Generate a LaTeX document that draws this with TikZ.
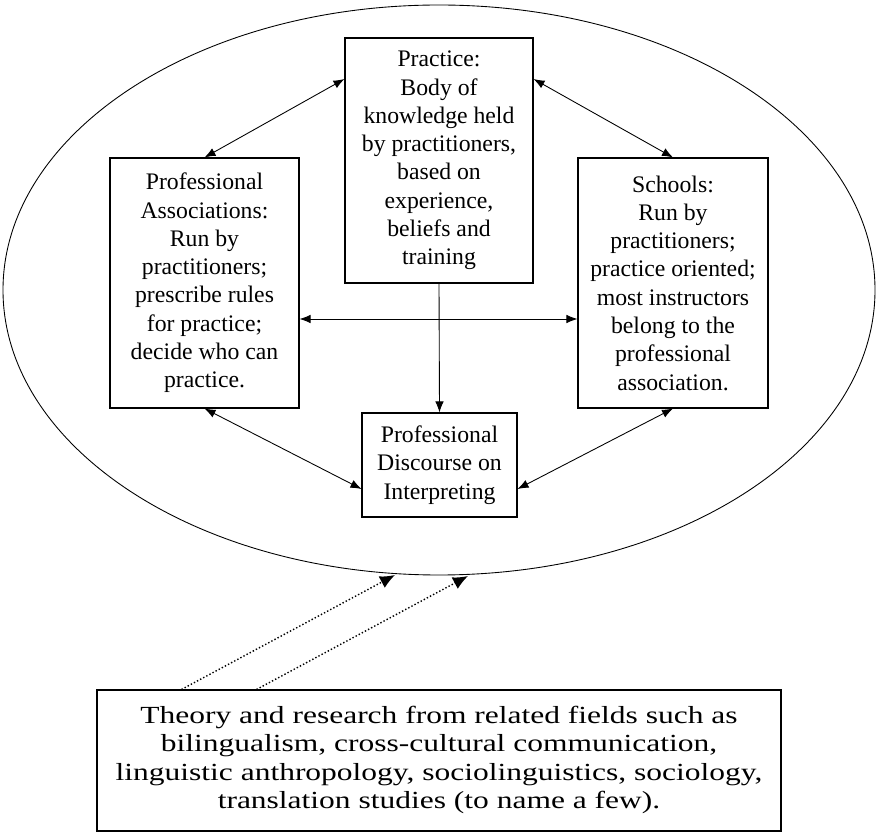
\documentclass[tikz,border=0pt]{standalone}
\usepackage{fontspec}
\setmainfont{Liberation Serif}
\usepackage{graphicx}
\usepackage{tikz}
\usetikzlibrary{arrows.meta,calc}

\begin{document}
\begin{tikzpicture}[>={Latex[length=2.2mm,width=1.7mm]},
  box/.style={draw,line width=0.6pt,align=center,inner sep=2pt,
    font=\fontsize{13.5}{16.1}\selectfont},
  link/.style={<->,line width=0.5pt},
  feed/.style={->,dash pattern=on 0.8pt off 1.2pt,line width=0.8pt,>={Latex[length=3mm,width=2.6mm]}}]
  \useasboundingbox (0,0) rectangle (17.56,-16.64);
  \draw[line width=0.5pt] (8.78,-5.8) ellipse (8.72 and 5.7);
  \node[box,minimum width=3.76cm,minimum height=4.9cm] (practice) at (8.78,-3.21)
    {Practice:\\ Body of\\ knowledge held\\ by practitioners,\\ based on\\ experience,\\ beliefs and\\ training};
  \node[box,minimum width=3.78cm,minimum height=5.0cm] (assoc) at (4.09,-5.66)
    {Professional\\ Associations:\\ Run by\\ practitioners;\\ prescribe rules\\ for practice;\\ decide who can\\ practice.};
  \node[box,minimum width=3.8cm,minimum height=5.0cm] (schools) at (13.46,-5.66)
    {Schools:\\ Run by\\ practitioners;\\ practice oriented;\\ most instructors\\ belong to the\\ professional\\ association.};
  \node[box,minimum width=3.1cm,minimum height=2.08cm] (discourse) at (8.79,-9.3)
    {Professional\\ Discourse on\\ Interpreting};
  % wide lettering in the bottom box
  \node[box,minimum width=13.68cm,minimum height=2.82cm,font=\fontsize{14}{16.2}\selectfont] (theory) at (8.78,-15.21)
    {\scalebox{1.28}[1]{\begin{tabular}{@{}c@{}}Theory and research from related fields such as\\ bilingualism, cross-cultural communication,\\ linguistic anthropology, sociolinguistics, sociology,\\ translation studies (to name a few).\end{tabular}}};
  \coordinate (hitA) at (7.9,-11.5);
  \coordinate (hitB) at (9.36,-11.52);
  \draw[link] ([yshift=1.63cm]practice.west) -- (assoc.north);
  \draw[link] ([yshift=1.63cm]practice.east) -- (schools.north);
  \draw[link] ([yshift=-0.72cm]assoc.east) -- ([yshift=-0.72cm]schools.west);
  \draw[->,line width=0.5pt] (practice.south) -- (discourse.north);
  \draw[link] (assoc.south) -- ([yshift=-0.48cm]discourse.west);
  \draw[link] (schools.south) -- ([yshift=-0.48cm]discourse.east);
  \draw[feed] ([xshift=1.7cm]theory.north west) -- (hitA);
  \draw[feed] ([xshift=3.2cm]theory.north west) -- (hitB);
\end{tikzpicture}
\end{document}
